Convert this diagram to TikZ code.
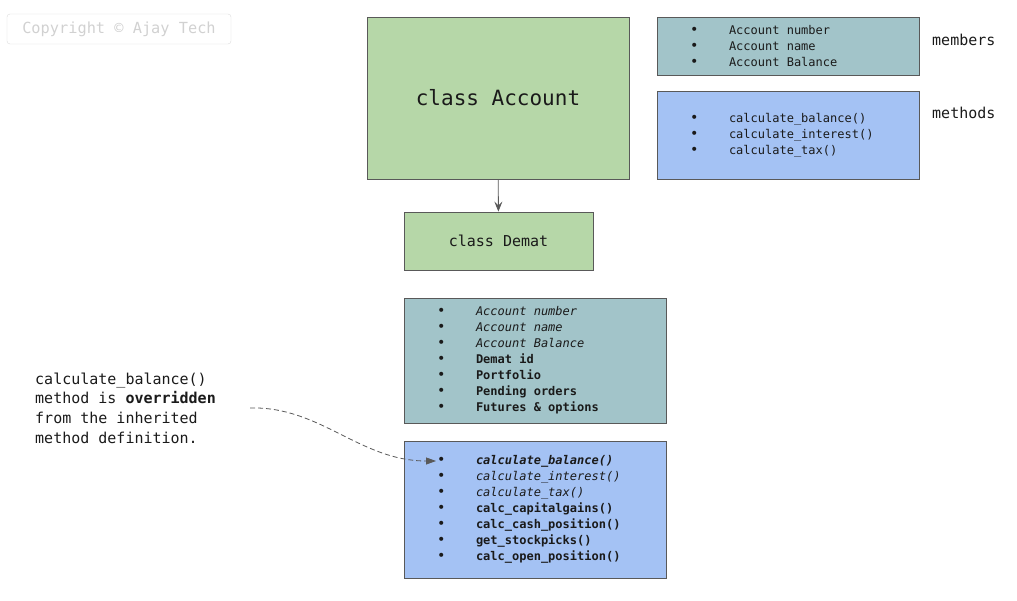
\documentclass[tikz,border=0pt]{standalone}
\usepackage{fontspec}
\setmonofont[WordSpace={1,0,0}]{DejaVu Sans Mono}
\usetikzlibrary{arrows.meta}
\definecolor{clsgreen}{HTML}{B6D7A8}
\definecolor{memteal}{HTML}{A2C4C9}
\definecolor{methblue}{HTML}{A4C2F4}
\definecolor{edgegray}{HTML}{595959}
\definecolor{inkgray}{HTML}{1A1A1A}
\newcommand{\bitem}[1]{\spaceskip=0pt\xspaceskip=0pt\makebox[39pt][l]{\fontsize{14}{16}\selectfont\textbullet}#1}
\begin{document}
\begin{tikzpicture}[x=1pt,y=-1pt,
		box/.style={draw=edgegray, line width=0.8pt, inner sep=0pt, text=inkgray},
		list/.style={box, text width=196pt, inner xsep=33pt, align=left, font=\ttfamily\fontsize{12}{16}\selectfont},
		lbl/.style={inner sep=0pt, anchor=west, text=inkgray, font=\ttfamily\fontsize{15}{19.7}\selectfont}]
		\useasboundingbox (0,0) rectangle (1017,601);
		\node[draw=black!14, rounded corners=3pt, minimum width=224pt, minimum height=30pt, inner sep=0pt, text=black!18, font=\ttfamily\fontsize{15.3}{18}\selectfont] (copy) at (119,29) {Copyright © Ajay Tech};
		\node[box, fill=clsgreen, minimum width=262pt, minimum height=162pt, font=\ttfamily\fontsize{21}{24}\selectfont] (acct) at (498,98) {class Account};
		\node[box, fill=clsgreen, minimum width=189pt, minimum height=58pt, font=\ttfamily\fontsize{15}{18}\selectfont] (demat) at (498.5,241) {class Demat};
		\draw[edgegray, line width=0.8pt, -{Stealth[length=10pt, width=8pt, inset=4pt]}] (acct) -- (demat);
		\node[list, fill=memteal, minimum height=58pt] (mem) at (788,46) {\bitem{Account number}\\ \bitem{Account name}\\ \bitem{Account Balance}};
		\node[list, fill=methblue, minimum height=88pt] (meth) at (788,135) {\bitem{calculate\_balance()}\\ \bitem{calculate\_interest()}\\ \bitem{calculate\_tax()}};
		\node[lbl] (memlbl) at (932,40) {members};
		\node[lbl] (methlbl) at (932,113) {methods};
		\node[list, fill=memteal, minimum height=125pt] (dmem) at (535,360.5) {\bitem{\textit{Account number}}\\ \bitem{\textit{Account name}}\\ \bitem{\textit{Account Balance}}\\ \bitem{\textbf{Demat id}}\\ \bitem{\textbf{Portfolio}}\\ \bitem{\textbf{Pending orders}}\\ \bitem{\textbf{Futures \& options}}};
		\node[list, fill=methblue, minimum height=137pt] (dmeth) at (535,509.5) {\bitem{\textbf{\textit{calculate\_balance()}}}\\ \bitem{\textit{calculate\_interest()}}\\ \bitem{\textit{calculate\_tax()}}\\ \bitem{\textbf{calc\_capitalgains()}}\\ \bitem{\textbf{calc\_cash\_position()}}\\ \bitem{\textbf{get\_stockpicks()}}\\ \bitem{\textbf{calc\_open\_position()}}};
		\node[lbl, align=left] (note) at (35,408) {calculate\_balance()\\ method is \textbf{overridden}\\ from the inherited\\ method definition.};
		\coordinate (ovr) at (436,461);
		\draw[edgegray, line width=0.8pt, dash pattern=on 5pt off 3pt, -{Triangle[length=10pt, width=7pt]}] ([xshift=34pt]note.east) .. controls (320,406) and (360,461) .. (ovr);
	\end{tikzpicture}
\end{document}
